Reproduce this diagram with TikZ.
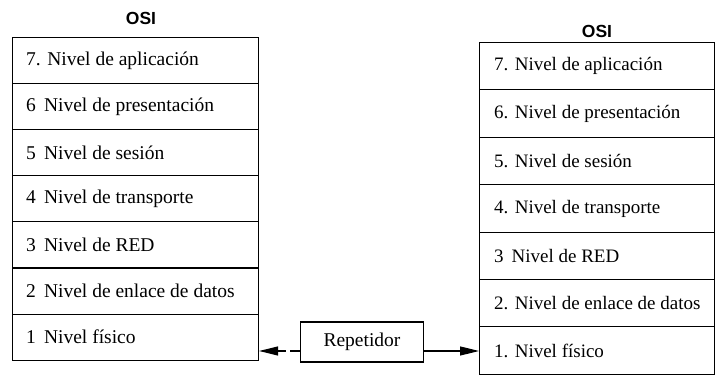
\documentclass[tikz,border=0pt]{standalone}
\usepackage{fontspec}
\setmainfont{Liberation Serif}
\newfontfamily\headfont{Liberation Sans}
\usetikzlibrary{arrows.meta,positioning}
\begin{document}
\begin{tikzpicture}[x=1pt,y=1pt,
  layer/.style={draw,line width=1.1pt,rectangle,anchor=north west,inner sep=0pt,
    text width=#1,align=left},
  ltext/.style={anchor=west,inner sep=0pt,font=\fontsize{19.5}{23}\selectfont},
  rtext/.style={anchor=west,inner sep=0pt,font=\fontsize{19}{22}\selectfont},
  title/.style={font=\headfont\bfseries\fontsize{17.5}{20}\selectfont},
  repbox/.style={draw,line width=1.1pt,minimum width=123pt,minimum height=40pt,
    font=\fontsize{19.5}{22}\selectfont},
  conn/.style={line width=1.2pt,-{Triangle[length=19pt,width=9pt]}}]
\useasboundingbox (0,0) rectangle (717,379);

% left stack
\def\lh{46.1}
\foreach \n [count=\i from 0] in {7,6,5,4,3,2,1}{
  \path (12,{342-\i*\lh}) node[layer=246pt,minimum height=\lh pt] (L\n) {};
}
\node[ltext] at ([xshift=14pt]L7.west) (tL7) {7. Nivel de aplicación};
\node[ltext] at ([xshift=14pt]L6.west) (tL6) {6\, Nivel de presentación};
\node[ltext] at ([xshift=14pt]L5.west) (tL5) {5\, Nivel de sesión};
\node[ltext] at ([xshift=14pt]L4.west) (tL4) {4\, Nivel de transporte};
\node[ltext] at ([xshift=14pt]L3.west) (tL3) {3\, Nivel de RED};
\node[ltext] at ([xshift=14pt]L2.west) (tL2) {2\, Nivel de enlace de datos};
\node[ltext] at ([xshift=14pt]L1.west) (tL1) {1\, Nivel físico};
\node[title] (osiL) at (141,361) {OSI};

% right stack
\def\rh{47.4}
\foreach \n [count=\i from 0] in {7,6,5,4,3,2,1}{
  \path (479,{337-\i*\rh}) node[layer=235pt,minimum height=\rh pt] (R\n) {};
}
\node[rtext] at ([xshift=15pt]R7.west) (tR7) {7. Nivel de aplicación};
\node[rtext] at ([xshift=15pt]R6.west) (tR6) {6. Nivel de presentación};
\node[rtext] at ([xshift=15pt]R5.west) (tR5) {5. Nivel de sesión};
\node[rtext] at ([xshift=15pt]R4.west) (tR4) {4. Nivel de transporte};
\node[rtext] at ([xshift=15pt]R3.west) (tR3) {3\, Nivel de RED};
\node[rtext] at ([xshift=15pt]R2.west) (tR2) {2. Nivel de enlace de datos};
\node[rtext] at ([xshift=15pt]R1.west) (tR1) {1. Nivel físico};
\node[title] (osiR) at (597,348) {OSI};

% repeater between the two physical layers
\node[repbox] (rep) at (362,37) {Repetidor};
\draw[conn,dash pattern=on 10pt off 4pt] ([yshift=-9pt]rep.west) -- ([yshift=-9pt]rep.west -| L1.east);
\draw[conn] ([yshift=-9pt]rep.east) -- ([yshift=-9pt]rep.east -| R1.west);
\end{tikzpicture}
\end{document}
